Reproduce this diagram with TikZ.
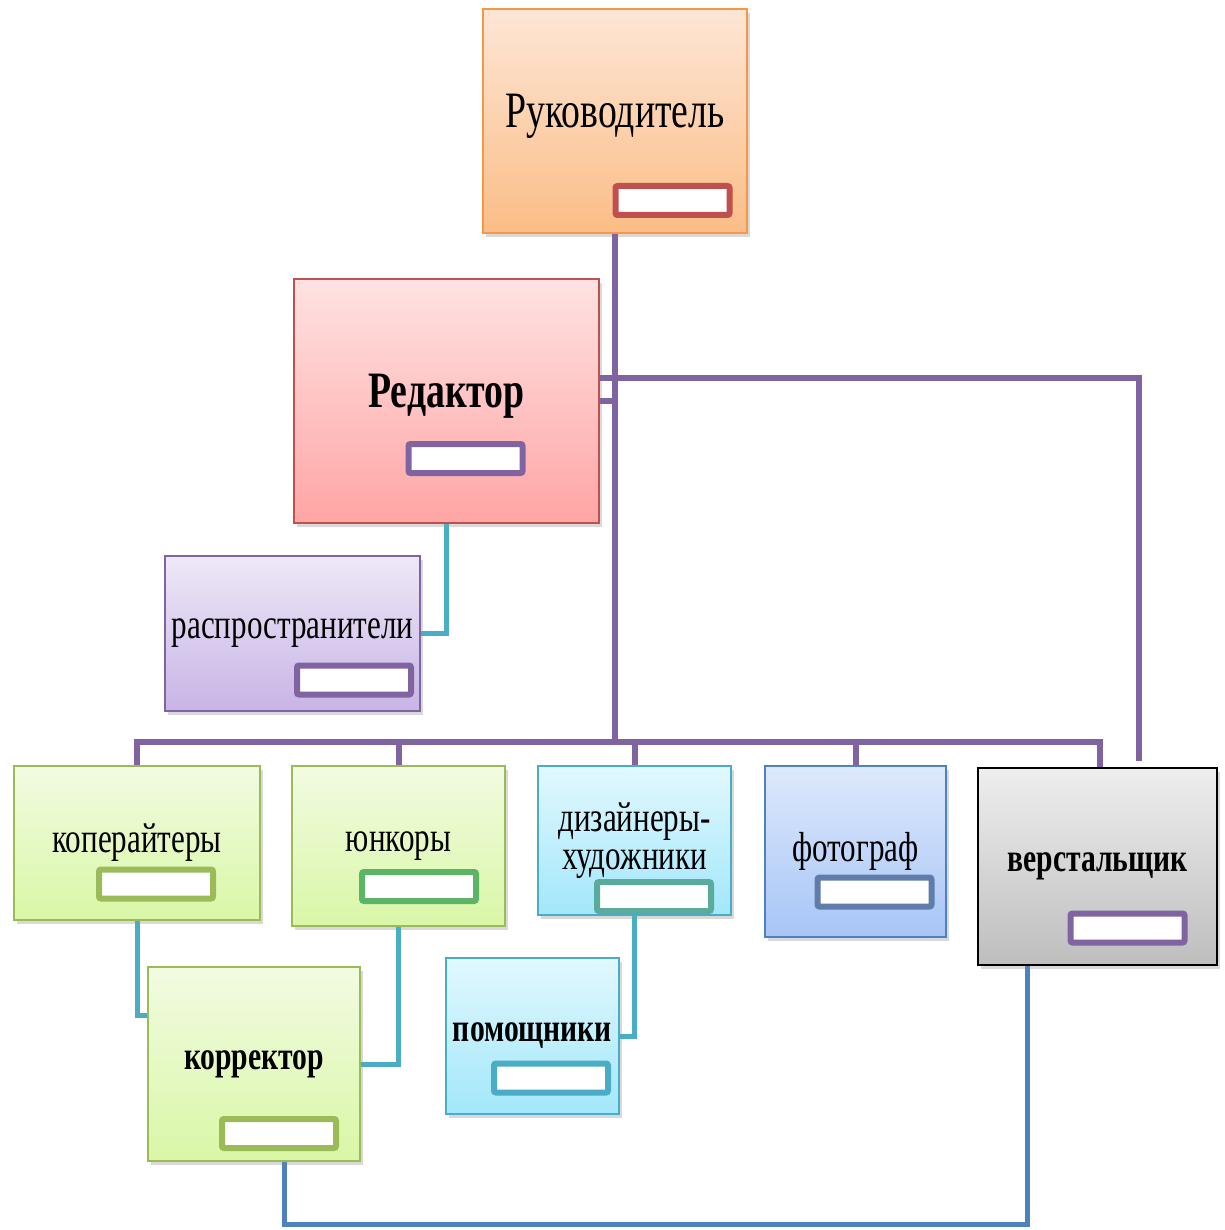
\documentclass[tikz,border=0pt]{standalone}
\usepackage{fontspec}
\setmainfont{Liberation Serif}[FakeStretch=0.74]
\usepackage{tikz}
\usetikzlibrary{shadows}
\usepackage{xcolor}

\definecolor{orangeTop}{HTML}{FDE6D6}
\definecolor{orangeBot}{HTML}{FBBD86}
\definecolor{orangeLine}{HTML}{F79646}
\definecolor{redTop}{HTML}{FFE2E2}
\definecolor{redBot}{HTML}{FFA5A5}
\definecolor{redLine}{HTML}{C0504D}
\definecolor{lilacTop}{HTML}{EEE8F7}
\definecolor{lilacBot}{HTML}{C8B4E6}
\definecolor{purpleLine}{HTML}{8064A2}
\definecolor{limeTop}{HTML}{F2FBE2}
\definecolor{limeBot}{HTML}{D9F7A6}
\definecolor{limeLine}{HTML}{9BBB59}
\definecolor{grassLine}{HTML}{5CB567}
\definecolor{skyTop}{HTML}{E2F8FE}
\definecolor{skyBot}{HTML}{A2E7FB}
\definecolor{skyLine}{HTML}{4BACC6}
\definecolor{tealLine}{HTML}{5AAB9C}
\definecolor{blueTop}{HTML}{DDE9FC}
\definecolor{blueBot}{HTML}{A7C5F6}
\definecolor{blueLine}{HTML}{4F81BD}
\definecolor{slateLine}{HTML}{5F7CAA}
\definecolor{greyTop}{HTML}{EEEEEE}
\definecolor{greyBot}{HTML}{BEBEBE}

\begin{document}
\begin{tikzpicture}[
  x=1pt,y=-1pt,
  every node/.style={align=center,inner sep=0pt},
  post/.style={draw,line width=2pt,rectangle,drop shadow={opacity=0.3,shadow xshift=3pt,shadow yshift=-4pt}},
  bigText/.style={font=\fontsize{51}{53}\selectfont,text depth=20pt},
  bigBold/.style={font=\bfseries\fontsize{51}{53}\selectfont,text depth=20pt},
  midText/.style={font=\fontsize{42}{44}\selectfont},
  midBold/.style={font=\bfseries\fontsize{40}{42}\selectfont},
  orangePost/.style={post,draw=orangeLine,top color=orangeTop,bottom color=orangeBot},
  redPost/.style={post,draw=redLine,top color=redTop,bottom color=redBot},
  lilacPost/.style={post,draw=purpleLine,top color=lilacTop,bottom color=lilacBot},
  limePost/.style={post,draw=limeLine,top color=limeTop,bottom color=limeBot},
  skyPost/.style={post,draw=skyLine,top color=skyTop,bottom color=skyBot},
  bluePost/.style={post,draw=blueLine,top color=blueTop,bottom color=blueBot},
  greyPost/.style={post,draw=black,top color=greyTop,bottom color=greyBot},
  nameBar/.style={draw,line width=6pt,fill=white,rounded corners=2pt,minimum width=114pt,minimum height=29pt},
  bossLine/.style={-,line width=6pt,purpleLine},
  staffLine/.style={-,line width=5pt,skyLine},
  printLine/.style={-,line width=5pt,blueLine}]

  \useasboundingbox (0,0) rectangle (1224,1230);

  % posts
  \node[orangePost,bigText,minimum width=264pt,minimum height=224pt] (boss) at (615,121) {Руководитель};
  \node[redPost,bigBold,minimum width=305pt,minimum height=244pt] (editor) at (446.5,401) {Редактор};
  \node[lilacPost,midText,minimum width=255pt,minimum height=155pt] (sellers) at (292.5,633.5) {распространители};
  \node[limePost,midText,minimum width=246pt,minimum height=154pt] (copy) at (137,843) {копeрайтеры};
  \node[limePost,midText,minimum width=213pt,minimum height=160pt] (young) at (398.5,846) {юнкоры};
  \node[skyPost,midText,minimum width=193pt,minimum height=149pt] (design) at (634.5,840.5) {дизайнеры-\\[-6pt]художники};
  \node[bluePost,midText,minimum width=181pt,minimum height=171pt] (photo) at (855.5,851.5) {фотограф};
  \node[greyPost,midBold,minimum width=239pt,minimum height=197pt] (layout) at (1097.5,866.5) {верстальщик};
  \node[limePost,midBold,minimum width=212pt,minimum height=194pt] (proof) at (254,1064) {корректор};
  \node[skyPost,midBold,minimum width=173pt,minimum height=156pt] (helper) at (532.5,1036) {помощники};

  % name bars
  \node[nameBar,draw=redLine] (bossBar) at (672.5,200.5) {};
  \node[nameBar,draw=purpleLine] (editorBar) at (465.5,458.5) {};
  \node[nameBar,draw=purpleLine] (sellersBar) at (354,680) {};
  \node[nameBar,draw=limeLine] (copyBar) at (156,884) {};
  \node[nameBar,draw=grassLine] (youngBar) at (419,886.5) {};
  \node[nameBar,draw=tealLine] (designBar) at (654,896.5) {};
  \node[nameBar,draw=slateLine] (photoBar) at (874.5,892) {};
  \node[nameBar,draw=purpleLine] (layoutBar) at (1127.5,928) {};
  \node[nameBar,draw=limeLine] (proofBar) at (279,1133.5) {};
  \node[nameBar,draw=skyLine] (helperBar) at (551,1078) {};

  \coordinate (bus) at (615,742);

  % purple lines
  \draw [bossLine] (boss.south) -- (bus);
  \draw [bossLine] (bus) -| (copy.north);
  \draw [bossLine] (bus) -| (young.north);
  \draw [bossLine] (bus) -| (design.north);
  \draw [bossLine] (bus) -| (photo.north);
  \draw [bossLine] (bus) -| ([xshift=2.5pt]layout.north);
  \draw [bossLine] (editor.east) -- (editor.east -| boss.south);
  \draw [bossLine] ([yshift=23pt]editor.east) -| ([xshift=41.5pt,yshift=6pt]layout.north);

  % staff lines
  \draw [staffLine] (editor.south) |- (sellers.east);
  \draw [staffLine] (copy.south) |- ([yshift=49pt]proof.west);
  \draw [staffLine] (young.south) |- (proof.east);
  \draw [staffLine] (design.south) |- (helper.east);

  % corrector to layout
  \draw [printLine] ([xshift=30pt]proof.south) -- ++(0,62) -| ([xshift=-70.5pt]layout.south);

\end{tikzpicture}
\end{document}
